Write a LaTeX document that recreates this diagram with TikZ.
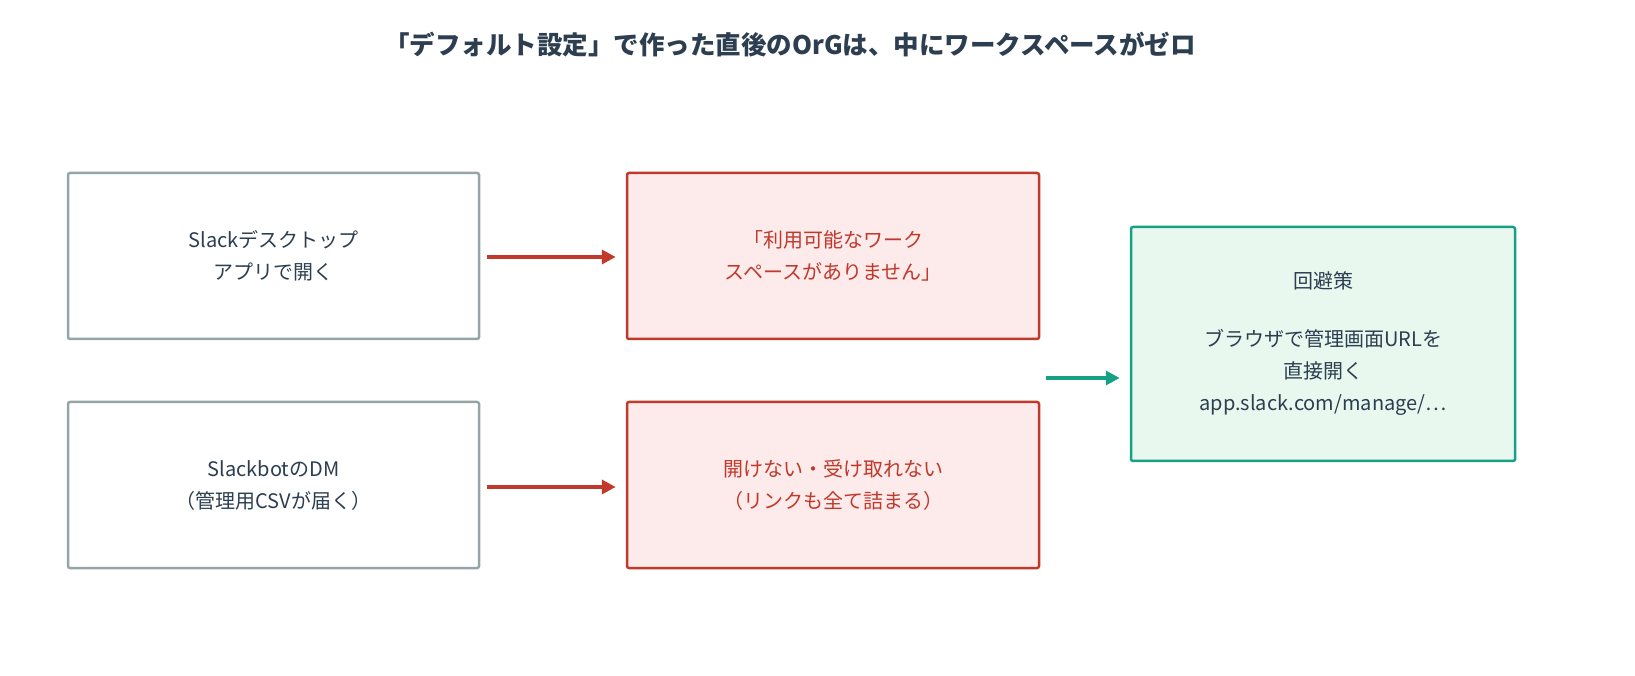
\documentclass[tikz,border=0pt]{standalone}
\usepackage{fontspec}
\setmainfont{Noto Sans CJK JP}
\usetikzlibrary{arrows.meta}
\definecolor{txt}{HTML}{2C3E50}
\definecolor{gb}{HTML}{95A5A6}
\definecolor{rb}{HTML}{C0392B}
\definecolor{rf}{HTML}{FDEBEB}
\definecolor{tb}{HTML}{16A085}
\definecolor{tf}{HTML}{E8F8EF}
\begin{document}
\begin{tikzpicture}[x=1pt,y=1pt,
  box/.style={draw, line width=2.5pt, rounded corners=2pt, align=center, font=\fontsize{20}{32}\selectfont, inner sep=0},
  gbox/.style={box, draw=gb, fill=white, text=txt},
  rbox/.style={box, draw=rb, fill=rf, text=rb},
  tbox/.style={box, draw=tb, fill=tf, text=txt},
  arr/.style={line width=3.5pt, -{Triangle[length=14pt,width=14pt]}}]
\useasboundingbox (0,0) rectangle (1635,675);
\node[font=\fontsize{25.5}{30}\selectfont\bfseries, text=txt] (title) at (790,630) {「デフォルト設定」で作った直後のOrGは、中にワークスペースがゼロ};
\node[gbox, minimum width=411, minimum height=166] (a1) at (273.5,419) {Slackデスクトップ\\アプリで開く};
\node[gbox, minimum width=411, minimum height=166] (a2) at (273.5,190) {SlackbotのDM\\（管理用CSVが届く）};
\node[rbox, minimum width=412, minimum height=166] (b1) at (833,419) {「利用可能なワーク\\スペースがありません」};
\node[rbox, minimum width=412, minimum height=166] (b2) at (833,190) {開けない・受け取れない\\（リンクも全て詰まる）};
\node[tbox, minimum width=384, minimum height=234] (c) at (1323,331) {回避策\\[26pt]ブラウザで管理画面URLを\\直接開く\\app.slack.com/manage/…};
\coordinate (s1) at (487,418);
\coordinate (s2) at (487,188);
\coordinate (s3) at (1046,297);
\draw[arr, rb] (s1) -- ([xshift=-10pt]b1.west |- s1);
\draw[arr, rb] (s2) -- ([xshift=-10pt]b2.west |- s2);
\draw[arr, tb] (s3) -- ([xshift=-10pt]c.west |- s3);
\end{tikzpicture}
\end{document}
